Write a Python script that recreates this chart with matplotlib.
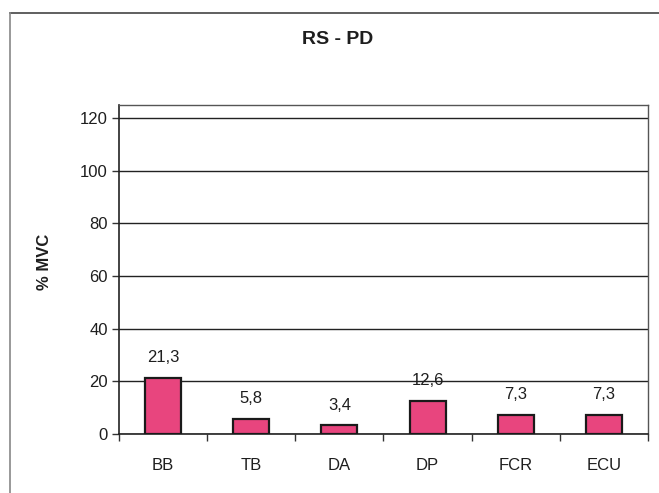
import matplotlib
matplotlib.use("Agg")
import matplotlib.pyplot as plt
from matplotlib.lines import Line2D
import numpy as np

categories = ["BB", "TB", "DA", "DP", "FCR", "ECU"]
values = [21.3, 5.8, 3.4, 12.6, 7.3, 7.3]
value_labels = ["21,3", "5,8", "3,4", "12,6", "7,3", "7,3"]
yticks = [0, 20, 40, 60, 80, 100, 120]
title = "RS - PD"
ylabel = "% MVC"

plt.rcParams['font.family'] = ['Liberation Sans', 'DejaVu Sans']

fig = plt.figure(figsize=(6.59, 4.93), dpi=100)
ax = fig.add_axes([119/659, 59/493, (648-119)/659, (434-105)/493])

x = np.arange(len(categories))
ax.bar(x, values, width=0.41, color="#E8457E", edgecolor="#1a1a1a", linewidth=1.6, zorder=3)
for xi, v, lab in zip(x, values, value_labels):
    ax.annotate(lab, (xi, v), xytext=(0, 9), textcoords="offset points",
                ha="center", va="bottom", fontsize=12, color="#1e1e1e")

ax.set_xlim(-0.5, len(categories) - 0.5)
ax.set_ylim(0, 125)
ax.set_yticks(yticks)
ax.set_yticklabels([str(t) for t in yticks], fontsize=12, color="#1e1e1e")
ax.set_xticks(x)
ax.set_xticklabels(categories, fontsize=12, color="#1e1e1e")
ax.set_xticks(np.arange(len(categories) + 1) - 0.5, minor=True)
ax.tick_params(axis="x", which="major", length=0, pad=17)
ax.tick_params(axis="x", which="minor", length=5, width=1, direction="out", color="#333333")
ax.tick_params(axis="y", length=5, width=1, direction="out", color="#333333", pad=3)
ax.yaxis.grid(True, color="#222222", linewidth=1.0, zorder=0)
ax.set_axisbelow(True)
for s in ["top", "right"]:
    ax.spines[s].set_color("#555555")
    ax.spines[s].set_linestyle((0, (6, 1)))
    ax.spines[s].set_linewidth(1.0)
for s in ["left", "bottom"]:
    ax.spines[s].set_color("#222222")
    ax.spines[s].set_linewidth(1.2)

fig.text(338/659, 1 - 40/493, title, ha="center", va="center", fontsize=14, fontweight="bold", color="#1e1e1e")
fig.text(45/659, 1 - 262/493, ylabel, ha="center", va="center", rotation=90, fontsize=12, fontweight="bold", color="#1e1e1e")

# outer chart frame
fig.add_artist(Line2D([10/659, 1.0], [1 - 13/493, 1 - 13/493], color="#444444", linewidth=1.2))
fig.add_artist(Line2D([10/659, 10/659], [1 - 13/493, 0.0], color="#888888", linewidth=1.2))

fig.savefig("out.png", dpi=100, facecolor="white")
